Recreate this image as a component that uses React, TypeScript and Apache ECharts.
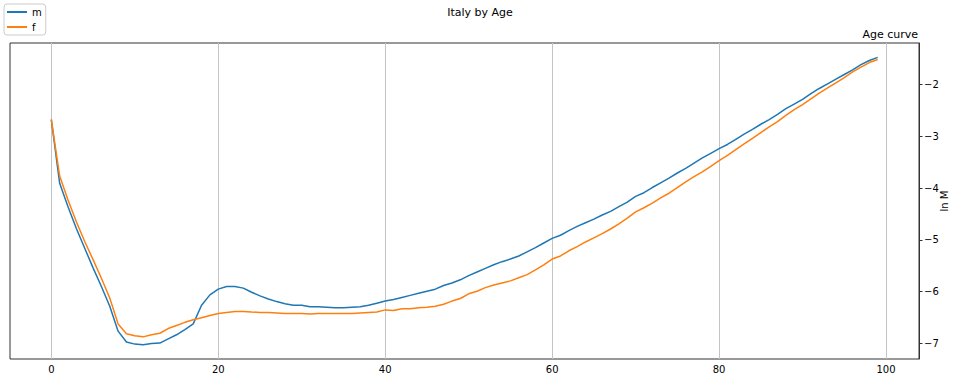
import React, { useEffect, useRef } from "react";
import * as echarts from "echarts";

const ages: number[] = Array.from({ length: 100 }, (_, i) => i);

const maleLnM: number[] = [
  -2.68, -3.91, -4.36, -4.78, -5.16, -5.54, -5.9, -6.28, -6.76, -6.97,
  -7.01, -7.02, -7.0, -6.99, -6.91, -6.83, -6.73, -6.62, -6.26, -6.06,
  -5.95, -5.9, -5.9, -5.93, -6.01, -6.08, -6.14, -6.19, -6.23, -6.26,
  -6.26, -6.29, -6.29, -6.3, -6.31, -6.31, -6.3, -6.29, -6.26, -6.22,
  -6.18, -6.15, -6.11, -6.07, -6.03, -5.99, -5.95, -5.88, -5.83, -5.77,
  -5.69, -5.62, -5.55, -5.48, -5.42, -5.37, -5.31, -5.23, -5.15, -5.06,
  -4.97, -4.91, -4.82, -4.74, -4.67, -4.6, -4.52, -4.45, -4.36, -4.27,
  -4.16, -4.09, -3.99, -3.9, -3.81, -3.71, -3.62, -3.52, -3.42, -3.33,
  -3.24, -3.16, -3.06, -2.96, -2.87, -2.77, -2.68, -2.58, -2.47, -2.38,
  -2.29, -2.18, -2.08, -1.99, -1.9, -1.81, -1.72, -1.62, -1.54, -1.48,
];

const femaleLnM: number[] = [
  -2.68, -3.77, -4.23, -4.65, -5.03, -5.38, -5.74, -6.12, -6.62, -6.81,
  -6.85, -6.87, -6.83, -6.8, -6.71, -6.65, -6.59, -6.54, -6.5, -6.46,
  -6.42, -6.4, -6.38, -6.38, -6.39, -6.4, -6.4, -6.41, -6.42, -6.42,
  -6.42, -6.43, -6.42, -6.42, -6.42, -6.42, -6.42, -6.41, -6.4, -6.39,
  -6.35, -6.36, -6.33, -6.33, -6.31, -6.3, -6.28, -6.24, -6.18, -6.13,
  -6.04, -5.99, -5.92, -5.87, -5.83, -5.79, -5.73, -5.67, -5.58, -5.48,
  -5.37, -5.31, -5.21, -5.13, -5.04, -4.96, -4.88, -4.79, -4.69, -4.58,
  -4.46, -4.38, -4.29, -4.19, -4.1, -3.99, -3.88, -3.78, -3.69, -3.58,
  -3.47, -3.37, -3.26, -3.15, -3.04, -2.93, -2.82, -2.72, -2.6, -2.49,
  -2.39, -2.28, -2.17, -2.07, -1.97, -1.87, -1.76, -1.67, -1.58, -1.52,
];

const xTicks: number[] = [0, 20, 40, 60, 80, 100];
const yTicks: number[] = [-7, -6, -5, -4, -3, -2];

const FONT = "DejaVu Sans";
const fmtMinus = (v: number) => (v < 0 ? "\u2212" + Math.abs(v) : String(v));

export default function App() {
  const ref = useRef<HTMLDivElement>(null);

  useEffect(() => {
    if (!ref.current) return;
    const chart = echarts.init(ref.current, undefined, { renderer: "svg" });
    const xMin = -4.95;
    const xMax = 103.95;
    const allVals = maleLnM.concat(femaleLnM);
    const dMin = Math.min(...allVals);
    const dMax = Math.max(...allVals);
    const pad = (dMax - dMin) * 0.05;

    chart.setOption({
      animation: false,
      backgroundColor: "#ffffff",
      title: [
        {
          text: "Italy by Age",
          left: 480,
          top: 7,
          padding: 0,
          textAlign: "center",
          textStyle: { fontFamily: FONT, fontSize: 11, fontWeight: "normal", color: "#000" },
        },
        {
          text: "Age curve",
          right: 42,
          top: 29,
          padding: 0,
          textStyle: { fontFamily: FONT, fontSize: 11, fontWeight: "normal", color: "#000" },
        },
      ],
      legend: {
        orient: "vertical",
        left: 4,
        top: 4,
        padding: [3, 4, 3, 3],
        itemGap: 5,
        itemWidth: 20,
        itemHeight: 2,
        icon: "rect",
        borderColor: "#cccccc",
        borderWidth: 1,
        borderRadius: 3,
        backgroundColor: "#ffffff",
        textStyle: { fontFamily: FONT, fontSize: 10, color: "#000" },
        data: ["m", "f"],
      },
      grid: {
        left: 10,
        right: 41,
        top: 43,
        bottom: 25,
        show: true,
        borderColor: "#333333",
        borderWidth: 1,
        containLabel: false,
        outerBoundsMode: "none",
      },
      xAxis: {
        type: "value",
        min: xMin,
        max: xMax,
        axisLine: { show: false, onZero: false },
        axisTick: { show: false, customValues: xTicks },
        axisLabel: {
          customValues: xTicks,
          fontFamily: FONT,
          fontSize: 10,
          color: "#000",
          margin: 5,
          formatter: (v: number) => fmtMinus(v),
        },
        splitLine: { show: true, lineStyle: { color: "#c4c4c4", width: 1 } },
      },
      yAxis: {
        type: "value",
        position: "right",
        min: dMin - pad,
        max: dMax + pad,
        name: "ln M",
        nameLocation: "middle",
        nameRotate: 90,
        nameGap: 20,
        nameMoveOverlap: false,
        nameTextStyle: { fontFamily: FONT, fontSize: 10, color: "#000" },
        axisLine: { show: true, onZero: false, lineStyle: { color: "#333333", width: 1 } },
        axisTick: {
          show: true,
          inside: false,
          customValues: yTicks,
          length: 3.5,
          lineStyle: { color: "#333333", width: 1 },
        },
        axisLabel: {
          customValues: yTicks,
          fontFamily: FONT,
          fontSize: 10,
          color: "#000",
          margin: 5,
          formatter: (v: number) => fmtMinus(v),
        },
        splitLine: { show: false },
      },
      series: [
        {
          name: "m",
          type: "line",
          data: ages.map((a, i) => [a, maleLnM[i]]),
          showSymbol: false,
          symbol: "none",
          lineStyle: { color: "#1f77b4", width: 1.5 },
          itemStyle: { color: "#1f77b4" },
        },
        {
          name: "f",
          type: "line",
          data: ages.map((a, i) => [a, femaleLnM[i]]),
          showSymbol: false,
          symbol: "none",
          lineStyle: { color: "#ff7f0e", width: 1.5 },
          itemStyle: { color: "#ff7f0e" },
        },
      ],
    });
    return () => chart.dispose();
  }, []);

  return <div ref={ref} style={{ width: 960, height: 384, position: "absolute", left: 0, top: 0 }} />;
}
